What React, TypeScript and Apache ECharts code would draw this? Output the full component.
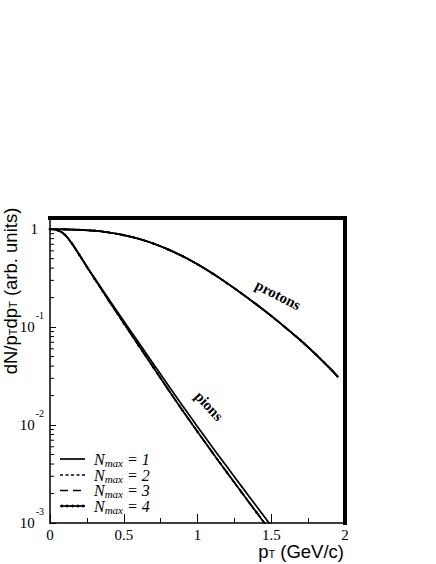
import React, { useEffect, useRef } from "react";
import * as echarts from "echarts";

// transverse momentum grids (GeV/c)
const pTPions = [0, 0.05, 0.1, 0.15, 0.2, 0.25, 0.3, 0.4, 0.5, 0.6, 0.7, 0.8, 0.9, 1.0, 1.1, 1.2, 1.3, 1.4, 1.5];
const pTProtons = [0, 0.1, 0.2, 0.3, 0.4, 0.5, 0.6, 0.7, 0.8, 0.9, 1.0, 1.1, 1.2, 1.3, 1.4, 1.5, 1.6, 1.7, 1.8, 1.9, 1.95];

// pion spectra
const pionsN1 = [1, 0.977, 0.881, 0.71, 0.546, 0.416, 0.3204, 0.1916, 0.1155, 0.0699, 0.04236, 0.02567, 0.01565, 0.00962, 0.00598, 0.003746, 0.002352, 0.00148, 0.000934];
const pionsN2 = [1, 0.977, 0.881, 0.708, 0.543, 0.412, 0.3144, 0.1851, 0.1098, 0.0652, 0.0389, 0.02325, 0.01401, 0.00854, 0.00527, 0.003277, 0.002049, 0.001284, 0.000806];
const pionsN3 = [1, 0.977, 0.881, 0.708, 0.543, 0.412, 0.3144, 0.1851, 0.1098, 0.0652, 0.0389, 0.02325, 0.01401, 0.00854, 0.00527, 0.003277, 0.002049, 0.001284, 0.000806];
const pionsN4 = [1, 0.977, 0.881, 0.708, 0.543, 0.412, 0.3144, 0.1851, 0.1098, 0.0652, 0.0389, 0.02325, 0.01401, 0.00854, 0.00527, 0.003277, 0.002049, 0.001284, 0.000806];

// proton spectra (all Nmax coincide)
const protonsN1 = [1, 0.9954, 0.984, 0.964, 0.925, 0.869, 0.798, 0.715, 0.622, 0.528, 0.438, 0.354, 0.281, 0.22, 0.17, 0.13, 0.0979, 0.073, 0.0531, 0.0376, 0.0313];
const protonsN2 = protonsN1;
const protonsN3 = protonsN1;
const protonsN4 = protonsN1;

// axes
const xTicks = [0, 0.5, 1, 1.5, 2];
const yMinorTicks = [0.002, 0.003, 0.004, 0.005, 0.006, 0.007, 0.008, 0.009, 0.02, 0.03, 0.04, 0.05, 0.06, 0.07, 0.08, 0.09, 0.2, 0.3, 0.4, 0.5, 0.6, 0.7, 0.8, 0.9];
const legendNames = ["N1", "N2", "N3", "N4"];
const legendNumbers = ["1", "2", "3", "4"];

const SERIF = "'Liberation Serif', 'Times New Roman', serif";
const SANS = "'Liberation Sans', Arial, sans-serif";

const zip = (xs: number[], ys: number[]) => xs.map((x, i) => [x, ys[i]]);

const dashes: any[] = ["solid", [3, 2.5], [8, 5], "solid"];
const showMarkers = [false, false, false, true];

export default function App() {
  const ref = useRef<HTMLDivElement>(null);
  useEffect(() => {
    if (!ref.current) return;
    const chart = echarts.init(ref.current, undefined, { renderer: "svg" });
    const pionSets = [pionsN1, pionsN2, pionsN3, pionsN4];
    const protonSets = [protonsN1, protonsN2, protonsN3, protonsN4];
    const series: any[] = [];
    for (let i = 0; i < 4; i++) {
      const common = {
        type: "line",
        name: legendNames[i],
        smooth: 0.3,
        symbol: showMarkers[i] ? "circle" : "none",
        symbolSize: 2.5,
        showSymbol: showMarkers[i],
        itemStyle: { color: "#000" },
        lineStyle: { color: "#000", width: 1.7, type: dashes[i] },
        z: 3,
      };
      series.push({ ...common, data: zip(pTPions, pionSets[i]) });
      series.push({ ...common, data: zip(pTProtons, protonSets[i]) });
    }
    series.push({
      type: "custom",
      name: "minor",
      silent: true,
      clip: false,
      z: 5,
      data: yMinorTicks.map((v) => [0, v]),
      renderItem: (params: any, api: any) => {
        const p = api.coord([api.value(0), api.value(1)]);
        return {
          type: "line",
          shape: { x1: p[0], y1: p[1], x2: p[0] + 4, y2: p[1] },
          style: { stroke: "#000", lineWidth: 1 },
        };
      },
    });

    // hand-drawn legend (line samples + labels)
    const legendRows = [459, 475, 490.5, 506];
    const legendGraphics: any[] = [];
    legendRows.forEach((y, i) => {
      legendGraphics.push({
        type: "line",
        shape: { x1: 60, y1: y, x2: 85, y2: y },
        style: {
          stroke: "#000",
          lineWidth: 1.7,
          lineDash: dashes[i] === "solid" ? null : dashes[i],
        },
      });
      if (showMarkers[i]) {
        [62, 67, 72.5, 78, 83].forEach((cx) =>
          legendGraphics.push({ type: "circle", shape: { cx, cy: y, r: 1.4 }, style: { fill: "#000" } })
        );
      }
      legendGraphics.push({
        type: "text",
        x: 94,
        y,
        style: {
          text: "{n|N}{s|max}{n| = " + legendNumbers[i] + "}",
          align: "left",
          verticalAlign: "middle",
          fill: "#000",
          rich: {
            n: { fontFamily: SERIF, fontStyle: "italic", fontSize: 16, fill: "#000" },
            s: { fontFamily: SERIF, fontStyle: "italic", fontSize: 11, fill: "#000", padding: [7, 0, 0, 0] },
          },
        },
      });
    });

    chart.setOption({
      animation: false,
      backgroundColor: "#fff",
      grid: { left: 50, right: 91, top: 218, bottom: 41, containLabel: false },
      xAxis: [
        {
          type: "value",
          min: 0,
          max: 2,
          interval: 0.5,
          axisLine: { lineStyle: { color: "#000", width: 1.5 } },
          axisTick: { inside: true, length: 9, lineStyle: { color: "#000", width: 1 } },
          minorTick: { show: true, splitNumber: 2, length: 5, lineStyle: { color: "#000", width: 1 } },
          splitLine: { show: false },
          axisLabel: {
            color: "#000",
            fontFamily: SERIF,
            fontSize: 15,
            margin: 4,
            formatter: (v: number) => (xTicks.includes(v) ? String(v) : ""),
          },
        },
        {
          type: "value",
          position: "top",
          min: 0,
          max: 1,
          axisLine: { lineStyle: { color: "#000", width: 4, cap: "square" } },
          axisTick: { show: false },
          axisLabel: { show: false },
          splitLine: { show: false },
        },
      ],
      yAxis: [
        {
          type: "log",
          logBase: 10,
          min: 0.001,
          max: 1.3,
          axisLine: { lineStyle: { color: "#000", width: 1.5 } },
          axisTick: { inside: true, length: 6, lineStyle: { color: "#000", width: 1 } },
          splitLine: { show: false },
          axisLabel: {
            color: "#000",
            margin: 6,
            formatter: (v: number) => {
              const lg = Math.log10(v);
              const e = Math.round(lg);
              if (Math.abs(lg - e) > 1e-6) return "";
              if (e === 0) return "{one|1}";
              return "{b|10}{sup|" + e + "}";
            },
            rich: {
              one: { fontFamily: SERIF, fontSize: 15, color: "#000", padding: [0, 6, 0, 0] },
              b: { fontFamily: SERIF, fontSize: 15, color: "#000" },
              sup: { fontFamily: SERIF, fontSize: 10, color: "#000", padding: [0, 0, 24, 1] },
            },
          },
        },
        {
          type: "value",
          position: "right",
          min: 0,
          max: 1,
          axisLine: { show: true, onZero: false, lineStyle: { color: "#000", width: 4, cap: "square" } },
          axisTick: { show: false },
          axisLabel: { show: false },
          splitLine: { show: false },
        },
      ],
      graphic: [
        {
          type: "text",
          x: 10,
          y: 291,
          rotation: Math.PI / 2,
          style: {
            text: "{a|dN/p}{s|T}{a|dp}{s|T}{a| (arb. units)}",
            align: "center",
            verticalAlign: "middle",
            fill: "#000",
            rich: {
              a: { fontFamily: SANS, fontSize: 18.5, fill: "#000" },
              s: { fontFamily: SANS, fontSize: 11, fill: "#000", padding: [6, 0, 0, 0] },
            },
          },
        },
        {
          type: "text",
          x: 344,
          y: 551,
          style: {
            text: "{a|p}{s|T}{a| (GeV/c)}",
            align: "right",
            verticalAlign: "middle",
            fill: "#000",
            rich: {
              a: { fontFamily: SANS, fontSize: 18.5, fill: "#000" },
              s: { fontFamily: SANS, fontSize: 11, fill: "#000", padding: [6, 0, 0, 0] },
            },
          },
        },
        {
          type: "text",
          x: 278,
          y: 295,
          rotation: -27 * Math.PI / 180,
          style: {
            text: "protons",
            align: "center",
            verticalAlign: "middle",
            fill: "#000",
            font: "bold 15px " + SERIF,
          },
        },
        {
          type: "text",
          x: 209,
          y: 406,
          rotation: -47 * Math.PI / 180,
          style: {
            text: "pions",
            align: "center",
            verticalAlign: "middle",
            fill: "#000",
            font: "bold 15px " + SERIF,
          },
        },
        ...legendGraphics,
      ],
      series,
    });
    return () => chart.dispose();
  }, []);
  return (
    <div
      ref={ref}
      style={{ position: "absolute", left: 0, top: 0, width: 436, height: 564, background: "#fff" }}
    />
  );
}
